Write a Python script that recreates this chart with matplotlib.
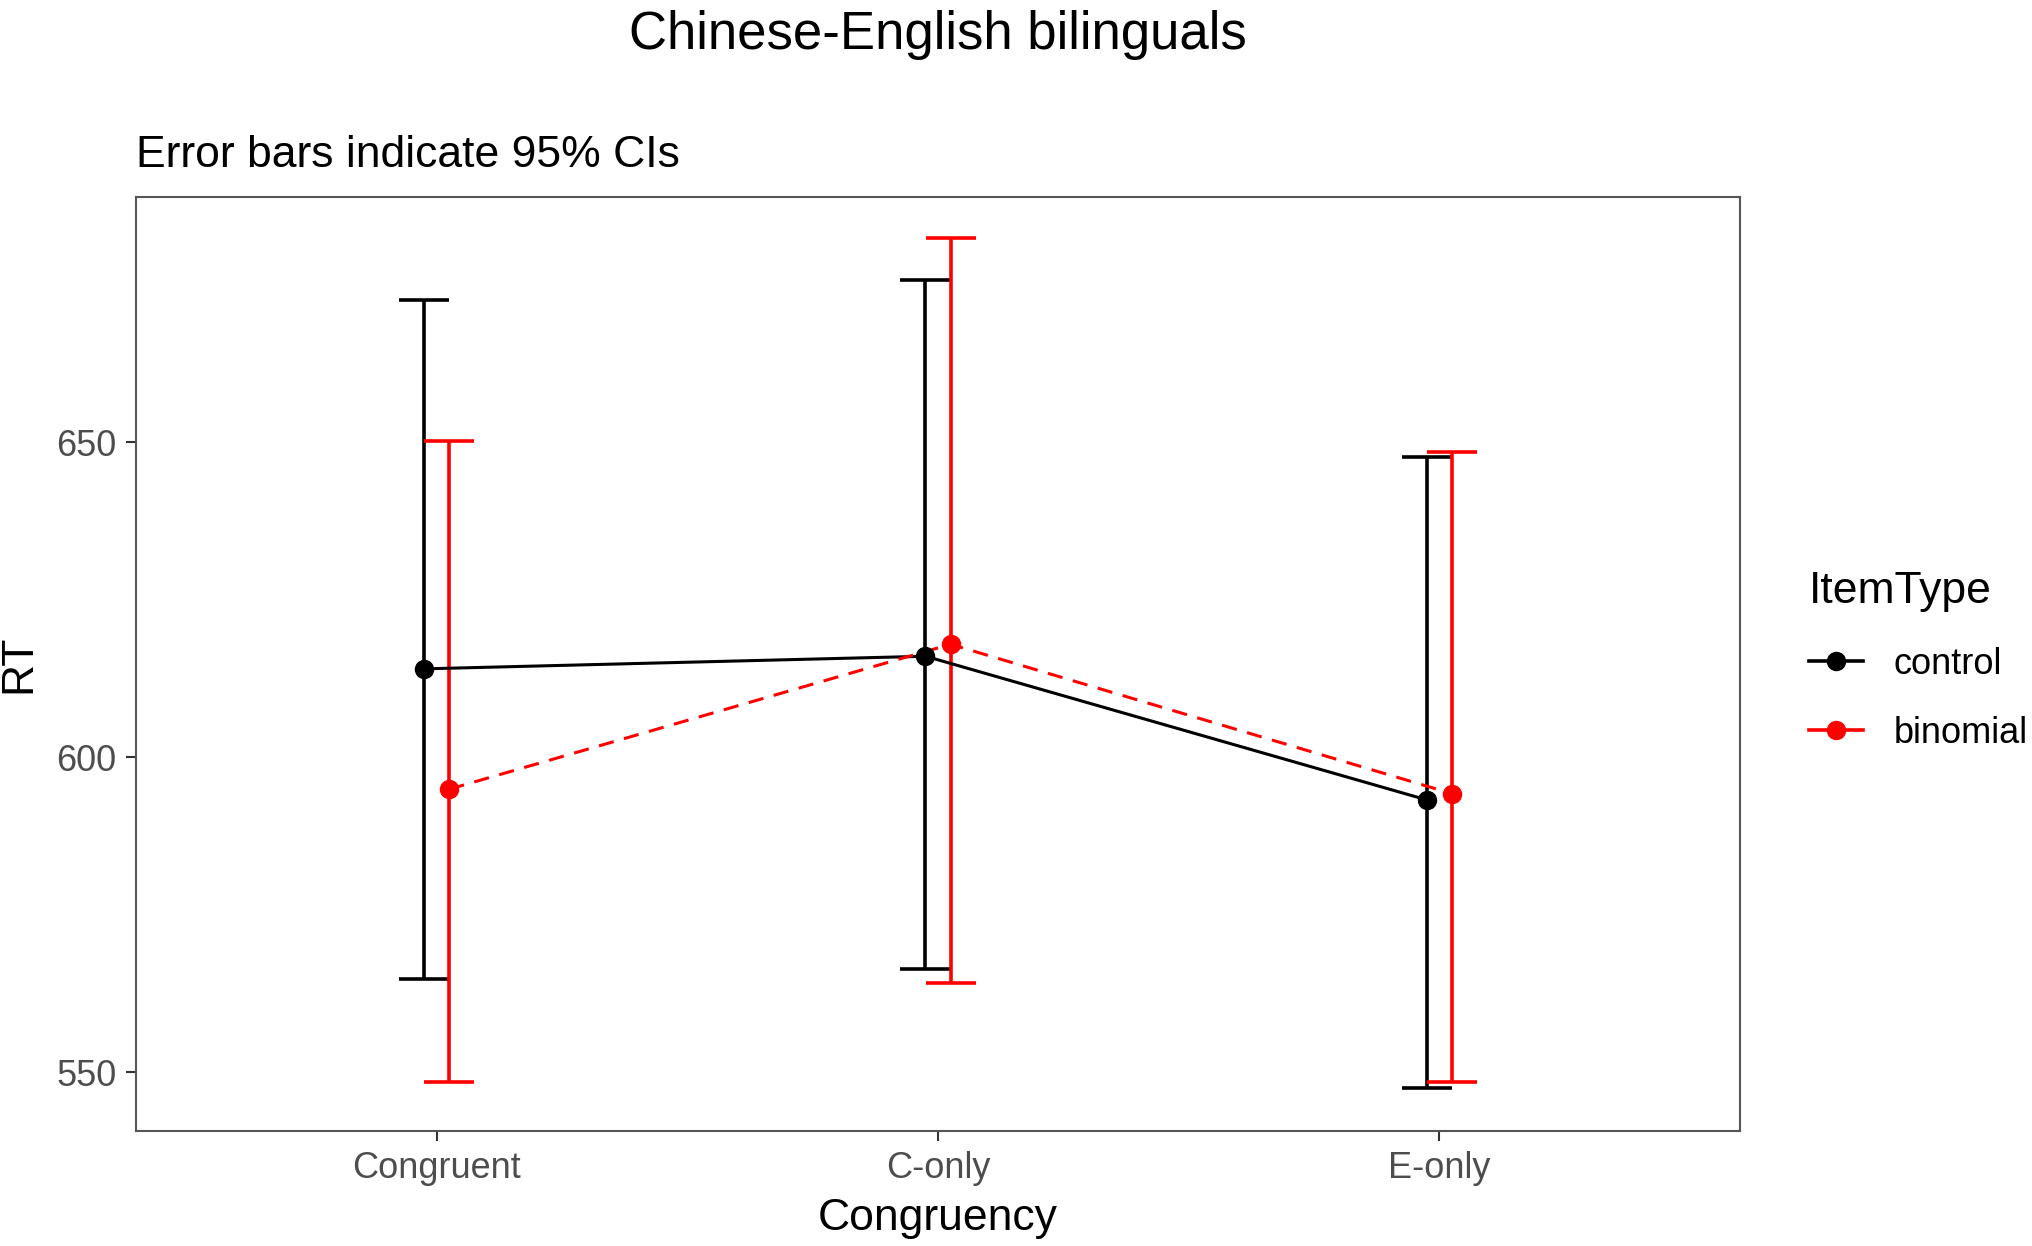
import numpy as np
import matplotlib
matplotlib.use("Agg")
import matplotlib.pyplot as plt
from matplotlib.lines import Line2D

plt.rcParams['font.family'] = ['Liberation Sans', 'DejaVu Sans']

# data
categories = ['Congruent', 'C-only', 'E-only']
groups = ['control', 'binomial']
colors = {'control': 'black', 'binomial': '#FF0000'}
styles = {'control': '-', 'binomial': '--'}

rt_mean = {'control': [614.0, 616.0, 593.2],
           'binomial': [594.9, 617.9, 594.2]}
ci_low = {'control': [564.8, 566.3, 547.4],
          'binomial': [548.4, 564.2, 548.4]}
ci_high = {'control': [672.6, 675.7, 647.7],
           'binomial': [650.2, 682.4, 648.5]}

dodge = {'control': -0.025, 'binomial': 0.025}

fig = plt.figure(figsize=(20.33, 12.46), dpi=100)
ax = fig.add_axes([0.0669, 0.0926, 0.7890, 0.7493])

x = np.arange(1, len(categories) + 1)
handles = []
for g in groups:
    xs = x + dodge[g]
    m = np.array(rt_mean[g])
    lo = m - np.array(ci_low[g])
    hi = np.array(ci_high[g]) - m
    ax.errorbar(xs, m, yerr=[lo, hi], fmt='none', ecolor=colors[g],
                elinewidth=2.6, capsize=18, capthick=2.6, zorder=2)
for g in groups:
    xs = x + dodge[g]
    ax.plot(xs, rt_mean[g], color=colors[g], linestyle=styles[g], lw=2.2,
            dashes=(5, 3.5) if styles[g] == '--' else (None, None), zorder=3)
    ax.plot(xs, rt_mean[g], 'o', color=colors[g], ms=13, zorder=4)
    handles.append(Line2D([], [], color=colors[g], lw=2.6, marker='o', ms=13))

ax.set_xlim(0.4, 3.6)
ax.set_ylim(540.7, 688.9)
ax.set_xticks(x)
ax.set_xticklabels(categories)
ax.set_yticks([550, 600, 650])
ax.tick_params(axis='both', labelsize=26, labelcolor='#4D4D4D', color='#333333',
               length=7, width=1.5, pad=7)
ax.tick_params(axis='x', pad=8)
for s in ax.spines.values():
    s.set_color('#555555')
    s.set_linewidth(1.5)

ax.set_xlabel('Congruency', fontsize=32, labelpad=8)
ax.set_ylabel('RT', fontsize=32, labelpad=12)

fig.text(0.4614, 0.972, 'Chinese-English bilinguals', fontsize=38,
         ha='center', va='center')
fig.text(0.0669, 0.875, 'Error bars indicate 95% CIs', fontsize=32,
         ha='left', va='center')

leg = ax.legend(handles, groups, title='ItemType', loc='upper left',
                bbox_to_anchor=(0.8827, 0.553), bbox_transform=fig.transFigure,
                frameon=False, fontsize=26, title_fontsize=32, borderpad=0.4,
                borderaxespad=0, handlelength=1.5, handletextpad=0.85,
                labelspacing=0.95, alignment='left', numpoints=1)

fig.savefig('out.png', dpi=100)
